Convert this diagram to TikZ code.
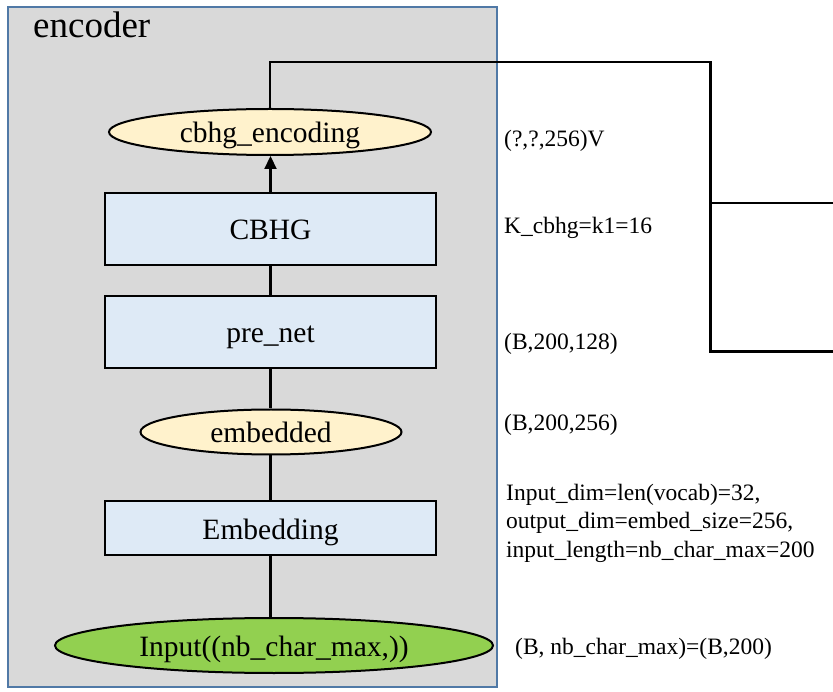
\documentclass[tikz,border=0pt]{standalone}
\usepackage{fontspec}
\setmainfont{Liberation Serif}
\usetikzlibrary{shapes.geometric,arrows.meta}
\definecolor{encgray}{HTML}{D9D9D9}
\definecolor{encblue}{HTML}{5079A6}
\definecolor{boxblue}{HTML}{DEEAF6}
\definecolor{ellyel}{HTML}{FFF2CC}
\definecolor{ellgreen}{HTML}{92D050}
\tikzset{
  layerbox/.style={draw=black, fill=boxblue, line width=2pt, rectangle, inner sep=0pt,
    minimum width=331pt, text height=22pt, text depth=0pt, font=\fontsize{29.5}{34}\selectfont},
  tensor/.style={draw=black, ellipse, line width=2pt, inner sep=0pt,
    text height=22pt, text depth=0pt, font=\fontsize{29.5}{34}\selectfont},
  note/.style={anchor=west, inner sep=0pt, align=left, font=\fontsize{23.5}{28.5}\selectfont},
  conn/.style={draw=black, line width=2.2pt},
}
\begin{document}
\begin{tikzpicture}[x=1pt,y=-1pt]
\useasboundingbox (0,0) rectangle (833,692);
\node[draw=encblue, fill=encgray, line width=2.2pt, rectangle, inner sep=0pt,
  minimum width=489pt, minimum height=680pt] (enc) at (252.5,347) {};
\node[anchor=west, inner sep=0pt, font=\fontsize{37}{40}\selectfont] (enclabel) at (33,25) {encoder};

\node[tensor, fill=ellyel, minimum width=322pt, minimum height=46pt] (cenc) at (270,132) {cbhg\_encoding};
\node[layerbox, minimum height=72pt] (cbhg) at (270.5,229) {CBHG};
\node[layerbox, minimum height=72pt] (prenet) at (270.5,332) {pre\_net};
\node[tensor, fill=ellyel, minimum width=261pt, minimum height=45pt] (emb) at (271,432) {embedded};
\node[layerbox, minimum height=54pt] (embl) at (270.5,528) {Embedding};
\node[tensor, fill=ellgreen, minimum width=438pt, minimum height=55pt] (inp) at (274,645.5) {Input((nb\_char\_max,))};

\draw[conn] (inp.north -| embl.south) -- (embl.south);
\draw[conn] (embl.north) -- (emb.south -| embl.north);
\draw[conn] (emb.north -| prenet.south) -- (prenet.south);
\draw[conn] (prenet.north) -- (cbhg.south);
\draw[conn, -{Triangle[length=13pt,width=12pt]}] (cbhg.north) -- (cenc.south -| cbhg.north);

\coordinate (turn) at (710.5,62);
\coordinate (split) at (710.5,203);
\coordinate (out1) at (833,203);
\coordinate (out2) at (833,351.5);
\draw[conn, line join=miter] (cenc.north) |- (turn) |- (out1);
\draw[conn] (split) |- (out2);

\node[note] (n1) at (504,141) {(?,?,256)V};
\node[note] (n2) at (504,228) {K\_cbhg=k1=16};
\node[note] (n3) at (504,344) {(B,200,128)};
\node[note] (n4) at (504,425) {(B,200,256)};
\node[note] (n5) at (506,523) {Input\_dim=len(vocab)=32,\\output\_dim=embed\_size=256,\\input\_length=nb\_char\_max=200};
\node[note] (n6) at (515,649) {(B, nb\_char\_max)=(B,200)};
\end{tikzpicture}
\end{document}
